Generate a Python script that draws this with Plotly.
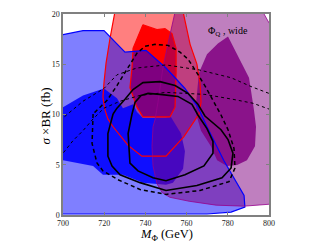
import plotly.graph_objects as go

# ---- data (M_Phi in GeV, sigma x BR in fb) ----
red2_m = [728.2, 725.2, 722.8, 720.9, 719.9, 719.4, 720.4, 721.8, 724.3, 731.6, 738.3, 750.0, 758.7, 766.0, 767.0, 766.5, 765.0, 761.7, 758.3, 757.3]
red2_s = [21.5, 20.2, 17.56, 15.12, 13.17, 11.71, 10.44, 9.56, 8.78, 6.93, 5.85, 5.85, 7.80, 10.05, 11.22, 13.17, 15.02, 16.98, 20.2, 21.5]

red1_m = [738.8, 745.6, 749.5, 752.9, 754.9, 754.9, 754.4, 751.9, 738.8, 735.9, 732.5, 733.5, 734.0]
red1_s = [18.93, 18.44, 18.54, 18.05, 16.59, 14.15, 10.73, 9.76, 9.76, 10.73, 12.68, 14.63, 16.59]

blue2_m = [696.1, 700.0, 709.7, 719.9, 730.1, 740.3, 750.0, 754.4, 759.2, 765.5, 769.9, 778.2, 784.0, 787.9, 788.3, 781.6, 769.9, 700.0, 696.1]
blue2_s = [17.95, 17.95, 18.34, 18.34, 16.20, 16.39, 14.63, 13.66, 12.59, 10.73, 8.78, 5.37, 3.32, 1.95, 0.78, 0.29, 0.10, 0.10, 0.10]

blue1_m = [696.1, 700.0, 709.7, 719.9, 726.2, 729.1, 734.0, 735.9, 738.8, 749.5, 752.4, 757.3, 759.2, 758.3, 753.4, 750.0, 738.8, 732.5, 729.1, 719.4, 714.6, 700.0, 696.1]
blue1_s = [10.73, 10.73, 11.90, 12.59, 11.61, 10.63, 11.02, 10.24, 9.66, 9.66, 9.76, 8.10, 6.34, 4.59, 3.22, 3.02, 3.22, 3.71, 4.00, 4.00, 4.88, 5.46, 5.46]

purp2_m = [755.3, 754.4, 751.5, 748.5, 746.1, 744.7, 743.7, 743.2, 743.7, 745.6, 748.1, 751.9, 761.2, 774.3, 787.9, 800.0, 810.2, 810.2, 800.0, 797.6, 795.6]
purp2_s = [21.5, 20.2, 17.56, 14.63, 11.22, 9.50, 8.78, 6.83, 4.88, 3.12, 2.24, 1.76, 1.37, 0.98, 0.88, 1.07, 1.07, 16.1, 19.12, 20.0, 21.5]

purp1_m = [780.1, 783.0, 790.3, 792.7, 793.7, 793.2, 789.3, 784.5, 779.6, 774.8, 771.8, 767.0, 764.6, 764.6, 766.0, 769.9, 775.2]
purp1_s = [17.76, 16.59, 13.66, 10.44, 8.78, 6.83, 5.46, 4.98, 4.88, 5.46, 6.83, 8.39, 10.05, 11.12, 14.15, 16.00, 17.07]

outer_m = [724.3, 721.8, 721.8, 723.8, 727.7, 737.4, 750.0, 765.0, 777.2, 781.6, 782.5, 780.1, 776.7, 768.9, 765.5, 760.7, 754.4, 747.1, 738.8, 734.0, 730.1, 726.2, 724.3]
outer_s = [10.05, 8.10, 5.85, 4.88, 4.00, 3.22, 2.44, 2.93, 3.71, 4.68, 6.15, 7.51, 8.49, 9.85, 11.02, 12.10, 12.88, 13.27, 13.17, 12.49, 11.51, 10.63, 10.05]

inner_m = [733.5, 731.6, 732.5, 736.4, 743.7, 750.0, 759.2, 768.4, 772.8, 772.8, 769.9, 765.5, 762.6, 755.8, 747.1, 741.3, 737.9, 735.0, 733.5]
inner_s = [10.05, 8.10, 5.17, 4.39, 3.71, 3.41, 4.00, 4.88, 6.15, 7.32, 8.59, 9.95, 11.02, 11.80, 12.00, 12.10, 11.90, 11.22, 10.05]

dash_m = [714.6, 714.1, 716.5, 719.4, 726.7, 737.4, 750.0, 766.5, 780.6, 783.5, 783.0, 780.1, 776.7, 773.3, 769.4, 765.0, 760.7, 756.8, 751.0, 744.7, 739.8, 735.9, 733.0, 730.1, 726.2, 721.4, 718.0, 714.6]
dash_s = [10.05, 7.12, 5.17, 4.39, 3.51, 2.54, 2.05, 2.44, 3.32, 4.68, 6.63, 8.49, 9.95, 11.22, 12.68, 14.15, 15.51, 16.20, 16.88, 16.98, 16.78, 16.10, 15.12, 14.15, 12.88, 11.41, 10.73, 10.05]

dotA_m = [696.1, 700.0, 709.7, 719.9, 726.2, 735.9, 750.0, 766.0, 781.6, 791.3, 800.0, 810.2]
dotA_s = [9.07, 9.66, 11.32, 12.59, 13.95, 14.63, 14.93, 14.44, 13.66, 12.78, 12.10, 11.32]

dotB_m = [696.1, 700.0, 704.9, 709.7, 714.6, 719.9, 727.7, 737.4, 750.0, 768.9, 782.5, 792.2, 800.0, 810.2]
dotB_s = [5.37, 6.15, 7.41, 8.39, 9.56, 10.63, 11.32, 11.90, 12.20, 12.00, 11.51, 11.12, 10.54, 9.85]

x_ticks = [700, 720, 740, 760, 780, 800]
y_ticks = [0, 5, 10, 15, 20]

label_text = "Φ<sub>Q</sub> , wide"
label_pos = (780.3, 18.3)

fig = go.Figure()

def fill(m, s, color):
    fig.add_trace(go.Scatter(
        x=m + [m[0]], y=s + [s[0]], mode="lines", fill="toself",
        fillcolor=color, line=dict(color="rgba(0,0,0,0)", width=0),
        hoverinfo="skip", showlegend=False))

def curve(m, s, color, width, dash="solid", close=False):
    xs = m + [m[0]] if close else m
    ys = s + [s[0]] if close else s
    fig.add_trace(go.Scatter(x=xs, y=ys, mode="lines",
                             line=dict(color=color, width=width, dash=dash),
                             hoverinfo="skip", showlegend=False))

# fills
fill(red2_m, red2_s, "rgba(255,0,0,0.5)")
fill(red1_m, red1_s, "rgba(255,0,0,1.0)")
fill(blue2_m, blue2_s, "rgba(0,0,255,0.5)")
fill(blue1_m, blue1_s, "rgba(0,0,255,0.88)")
fill(purp2_m, purp2_s, "rgba(128,0,128,0.5)")
fill(purp1_m, purp1_s, "rgba(128,0,128,0.85)")

# outlines
curve(red2_m, red2_s, "#ff0000", 1.2, close=True)
curve(red1_m, red1_s, "#ff0000", 1.2, close=True)
curve(blue2_m, blue2_s, "#0000ff", 1.2, close=True)
curve(purp2_m, purp2_s, "rgba(150,0,140,0.8)", 1.0, close=True)

# black contours
curve(dotA_m, dotA_s, "black", 1.0, dash="dot")
curve(dotB_m, dotB_s, "black", 1.0, dash="dot")
curve(dash_m, dash_s, "black", 1.5, dash="4px,3px", close=True)
curve(outer_m, outer_s, "black", 1.6, close=True)
curve(inner_m, inner_s, "black", 1.6, close=True)

serif = "Liberation Serif, Times New Roman, serif"

fig.add_annotation(x=label_pos[0], y=label_pos[1], text=label_text, showarrow=False,
                   font=dict(family=serif, size=10, color="black"), xref="x", yref="y")

fig.add_annotation(x=0.5, y=-0.10, xref="paper", yref="paper", showarrow=False,
                   text="<i>M</i><sub>Φ</sub> (GeV)", yanchor="middle",
                   font=dict(family=serif, size=12.5, color="black"))
fig.add_annotation(x=-0.087, y=0.49, xref="paper", yref="paper", showarrow=False,
                   text="<i>σ</i> ×BR (fb)", textangle=-90, xanchor="center",
                   font=dict(family=serif, size=13, color="black"))

axis_common = dict(showgrid=False, zeroline=False, showline=True, mirror="ticks",
                   linecolor="#808080", linewidth=1.5, ticks="inside", ticklen=3,
                   tickcolor="#808080", tickwidth=1,
                   tickfont=dict(family=serif, size=8, color="#222222"))

fig.update_xaxes(range=[700, 800], tickvals=x_ticks, ticktext=[str(v) for v in x_ticks], **axis_common)
fig.update_yaxes(range=[0, 20], tickvals=y_ticks, ticktext=[str(v) for v in y_ticks], **axis_common)

fig.update_layout(width=332, height=249, margin=dict(l=63, r=63, t=10, b=34),
                  paper_bgcolor="white", plot_bgcolor="white", showlegend=False)

fig.write_html("out.html", config={"displayModeBar": False},
               post_script="document.body.style.margin='0';document.body.style.overflow='hidden';")
